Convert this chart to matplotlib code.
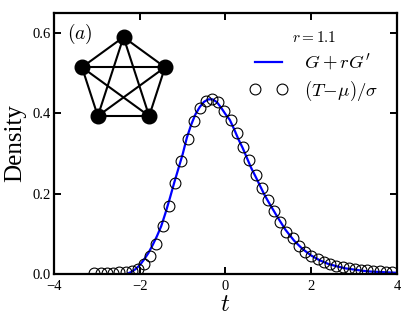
"""Density of the standardized statistic compared with G + rG' (r = 1.1)."""

from matplotlib import pyplot
import numpy

t_points = [-3.06, -2.91, -2.77, -2.62, -2.48, -2.33, -2.19, -2.04, -1.90,
            -1.75, -1.61, -1.46, -1.32, -1.17, -1.03, -0.88, -0.74, -0.60,
            -0.46, -0.32, -0.17, -0.03, 0.12, 0.26, 0.41, 0.55, 0.70, 0.84,
            0.99, 1.13, 1.28, 1.42, 1.57, 1.71, 1.86, 2.00, 2.15, 2.29, 2.44,
            2.58, 2.73, 2.87, 3.02, 3.16, 3.31, 3.45, 3.60, 3.74, 3.89]
density_points = [0.003, 0.003, 0.003, 0.003, 0.004, 0.005, 0.008, 0.013,
                  0.025, 0.045, 0.075, 0.119, 0.169, 0.226, 0.281, 0.336,
                  0.380, 0.413, 0.430, 0.436, 0.428, 0.406, 0.383, 0.350,
                  0.316, 0.283, 0.246, 0.214, 0.184, 0.156, 0.129, 0.105,
                  0.089, 0.070, 0.055, 0.045, 0.037, 0.030, 0.025, 0.020,
                  0.017, 0.014, 0.012, 0.010, 0.009, 0.008, 0.007, 0.006,
                  0.005]

# Approximation G + rG'.
t_curve = [-2.40, -2.30, -2.20, -2.10, -2.00, -1.90, -1.80, -1.70, -1.60,
           -1.50, -1.40, -1.30, -1.20, -1.10, -1.00, -0.90, -0.80, -0.70,
           -0.60, -0.50, -0.40, -0.30, -0.20, -0.10, 0.00, 0.10, 0.20, 0.30,
           0.40, 0.50, 0.60, 0.70, 0.80, 0.90, 1.00, 1.20, 1.40, 1.60, 1.80,
           2.00, 2.20, 2.40, 2.60, 2.80, 3.00, 3.20, 3.40, 3.60, 3.80, 4.00]
density_curve = [-0.002, 0.000, 0.005, 0.012, 0.022, 0.036, 0.052, 0.072,
                 0.094, 0.119, 0.152, 0.188, 0.226, 0.262, 0.298, 0.340,
                 0.372, 0.398, 0.416, 0.429, 0.435, 0.435, 0.428, 0.414,
                 0.398, 0.384, 0.361, 0.336, 0.314, 0.289, 0.264, 0.243,
                 0.221, 0.199, 0.180, 0.144, 0.110, 0.083, 0.062, 0.046,
                 0.034, 0.025, 0.019, 0.014, 0.011, 0.008, 0.006, 0.005,
                 0.004, 0.003]

# Complete graph K5 shown in the inset.
n_nodes = 5
r_value = 1.1

pyplot.rc('font', family='serif', serif=['Liberation Serif'], size=10.5)
pyplot.rc('mathtext', fontset='cm')
pyplot.rc('axes', linewidth=1.6)

fig = pyplot.figure(figsize=(4.07, 3.23), dpi=100)
ax = fig.add_axes([0.1327, 0.1517, 0.8427, 0.808])

ax.plot(t_curve, density_curve, color='#0000ff', linewidth=1.6,
        label=r'$G+rG^{\prime}$', zorder=2)
ax.plot(t_points, density_points, linestyle='none', marker='o',
        markersize=7.8, markerfacecolor='none', markeredgecolor='black',
        markeredgewidth=0.8, label=r'$(T\!-\!\mu)/\sigma$', zorder=3)

ax.set_xlim(-4.0, 4.0)
ax.set_ylim(0.0, 0.65)
ax.set_xticks([-4, -2, 0, 2, 4])
ax.set_yticks([0.0, 0.2, 0.4, 0.6])
ax.set_yticklabels(['0.0', '0.2', '0.4', '0.6'])
ax.tick_params(direction='in', length=5, width=1.4, top=True, right=True)
ax.tick_params(axis='x', pad=4)
ax.tick_params(axis='y', pad=2)
ax.set_xlabel(r'$t$', fontsize=18, labelpad=1)
ax.set_ylabel('Density', fontsize=18, labelpad=5)

ax.text(0.038, 0.92, r'$(a)$', transform=ax.transAxes, fontsize=14,
        va='center', ha='left')

leg = ax.legend(loc='upper right', bbox_to_anchor=(0.995, 0.998),
                frameon=False, numpoints=2, handlelength=2.0,
                handletextpad=0.9, labelspacing=0.35, fontsize=13.5,
                title=r'$r=%.1f$' % r_value, title_fontsize=11)

# Inset with the complete graph on five nodes (regular pentagon layout).
inset = fig.add_axes([0.3034 - 0.1351, 0.750 - 0.1703, 0.2703, 0.3406])
inset.set_xlim(-1.26, 1.26)
inset.set_ylim(-1.26, 1.26)
inset.axis('off')
angles = numpy.pi / 2 + 2 * numpy.pi * numpy.arange(n_nodes) / n_nodes
xs, ys = numpy.cos(angles), numpy.sin(angles)
for i in range(n_nodes):
    for j in range(i + 1, n_nodes):
        inset.plot([xs[i], xs[j]], [ys[i], ys[j]], color='black',
                   linewidth=1.5, solid_capstyle='round')
inset.plot(xs, ys, linestyle='none', marker='o', markersize=10.5,
           color='black')

fig.savefig('out.png', dpi=100)
